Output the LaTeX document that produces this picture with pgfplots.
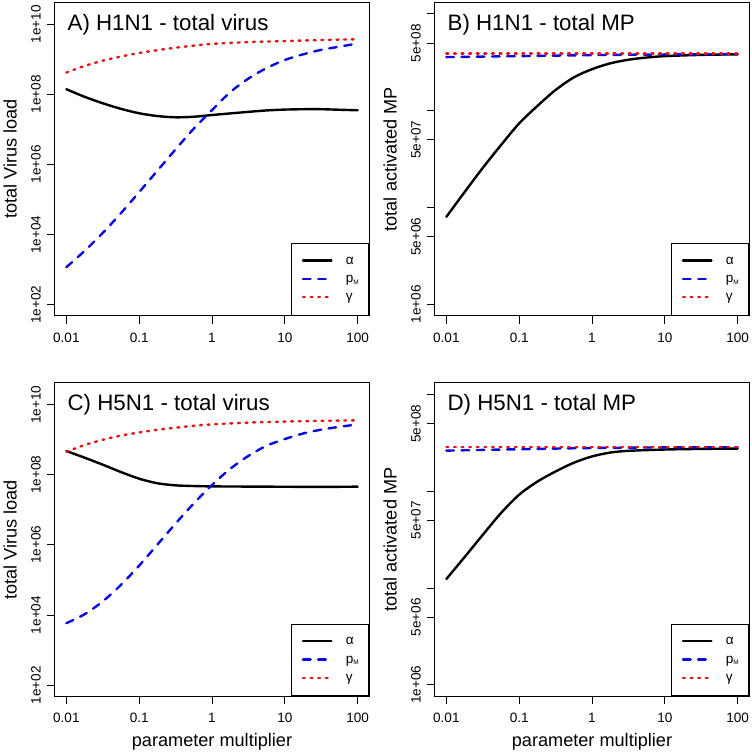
\documentclass[border=0pt]{standalone}
\usepackage{pgfplots}
\pgfplotsset{compat=1.18}
\usepackage{fontspec}
\setmainfont{Liberation Sans}
\definecolor{rblue}{RGB}{10,10,225}
\definecolor{rred}{RGB}{228,20,20}
\tikzset{
  lalpha/.style={black, line width=2.4bp, line cap=round, line join=round, smooth, tension=0.5},
  lpm/.style={rblue, line width=2.4bp, line cap=round, dash pattern=on 7.6bp off 7.6bp, smooth, tension=0.5},
  lgamma/.style={rred, line width=2.4bp, line cap=round, dash pattern=on 1.9bp off 5.7bp, smooth, tension=0.5},
  ttl/.style={anchor=base west, font=\fontsize{22.4}{26}\selectfont, xshift=9.4bp, yshift=-28bp},
}
\pgfplotsset{
  scale only axis, width=314.6bp, height=313.6bp,
  xmin=0.006918, xmax=144.54,
  xtick={0.01,0.1,1,10,100},
  xticklabels={0.01,0.1,1,10,100},
  xminorticks=false, yminorticks=false,
  tick align=outside, major tick length=8bp,
  axis line style={line width=1bp},
  every tick/.style={black, line width=1bp},
  tick label style={font=\fontsize{13.6}{16}\selectfont},
  xticklabel style={anchor=base, yshift=-18.5bp},
  yticklabel style={xshift=-6bp, rotate=90, anchor=base},
  every axis y label/.style={at={(rel axis cs:0,0.5)}, xshift=-38bp, rotate=90, anchor=base, font=\fontsize{18.2}{21}\selectfont},
  every axis x label/.style={at={(rel axis cs:0.5,0)}, yshift=-50bp, anchor=base, font=\fontsize{18.2}{21}\selectfont},
  legend style={at={(rel axis cs:1,0)}, anchor=south east, draw=black, line width=1bp,
      inner xsep=10bp, inner ysep=8.3bp, font=\fontsize{13.6}{15}\selectfont,
      nodes={inner sep=0pt, text height=12bp, text depth=6.3bp, anchor=base west}},
  legend image code/.code={\draw[#1, line width=2.4bp] (0bp,3.6bp) -- (28.4bp,3.6bp);},
}
\begin{document}
\begin{tikzpicture}
\path[use as bounding box] (0,0) rectangle (752bp,753bp);
% A
\begin{axis}[xmode=log, ymode=log, xtick pos=left, ytick pos=left,
  ymin=47.3, ymax=4.2e10, ytick={1e2,1e4,1e6,1e8,1e10},
  yticklabels={1e+02,1e+04,1e+06,1e+08,1e+10},
  at={(54.7bp,437bp)}, anchor=south west, ylabel={total Virus load},
  legend style={/tikz/every odd column/.append style={column sep=13.3bp}}]
\addplot[lalpha] coordinates {(0.01,1.40e8)(0.01778,8.51e7)(0.03162,5.56e7)(0.05623,3.85e7)(0.1,2.88e7)(0.1778,2.40e7)(0.3162,2.21e7)(0.5623,2.29e7)(1,2.57e7)(1.778,2.85e7)(3.162,3.16e7)(5.623,3.47e7)(10,3.67e7)(17.78,3.76e7)(31.62,3.76e7)(56.23,3.63e7)(100,3.51e7)};
\addlegendentry{α}
\addplot[lpm] coordinates {(0.01,1.17e3)(0.01778,3.39e3)(0.03162,1.11e4)(0.05623,4.07e4)(0.1,1.62e5)(0.1778,6.61e5)(0.3162,2.69e6)(0.5623,1.05e7)(1,3.55e7)(1.778,1.15e8)(3.162,2.82e8)(5.623,5.62e8)(10,9.55e8)(17.78,1.38e9)(31.62,1.86e9)(56.23,2.29e9)(100,2.82e9)};
\addlegendentry{p\raisebox{-1.5bp}{\fontsize{6.5}{7}\selectfont M}}
\addplot[lgamma] coordinates {(0.01,4.17e8)(0.01778,6.46e8)(0.03162,9.12e8)(0.05623,1.20e9)(0.1,1.51e9)(0.1778,1.82e9)(0.3162,2.14e9)(0.5623,2.45e9)(1,2.75e9)(3.162,3.09e9)(10,3.31e9)(31.62,3.55e9)(100,3.72e9)};
\addlegendentry{γ}
\node[ttl] at (rel axis cs:0,1) {A) H1N1 - total virus};
\end{axis}
% B
\begin{axis}[xmode=log, ymode=log, xtick pos=left, ytick pos=left,
  ymin=7.586e5, ymax=1.318e9, ytick={1e6,5e6,1e7,5e7,1e8,5e8,1e9},
  yticklabels={1e+06,5e+06,,5e+07,,5e+08,},
  at={(434.7bp,437bp)}, anchor=south west, ylabel={total activated MP},
  legend style={/tikz/every odd column/.append style={column sep=13.3bp}}]
\addplot[lalpha] coordinates {(0.01,8.02e6)(0.01778,1.445e7)(0.03162,2.57e7)(0.05623,4.42e7)(0.1,7.41e7)(0.1778,1.122e8)(0.3162,1.641e8)(0.5623,2.213e8)(1,2.69e8)(1.778,3.09e8)(3.162,3.37e8)(5.623,3.55e8)(10,3.67e8)(31.62,3.78e8)(100,3.83e8)};
\addlegendentry{α}
\addplot[lpm] coordinates {(0.01,3.59e8)(0.1,3.67e8)(1,3.76e8)(10,3.82e8)(100,3.85e8)};
\addlegendentry{p\raisebox{-1.5bp}{\fontsize{6.5}{7}\selectfont M}}
\addplot[lgamma] coordinates {(0.01,3.89e8)(0.1,3.89e8)(1,3.89e8)(10,3.89e8)(100,3.89e8)};
\addlegendentry{γ}
\node[ttl] at (rel axis cs:0,1) {B) H1N1 - total MP};
\end{axis}
% C
\begin{axis}[xmode=log, ymode=log, xtick pos=left, ytick pos=left,
  ymin=47.3, ymax=4.2e10, ytick={1e2,1e4,1e6,1e8,1e10},
  yticklabels={1e+02,1e+04,1e+06,1e+08,1e+10},
  at={(54.7bp,56.5bp)}, anchor=south west, ylabel={total Virus load}, xlabel={parameter multiplier},
  legend style={/tikz/every odd column/.append style={column sep=13.3bp}}]
\addplot[lalpha] coordinates {(0.01,4.79e8)(0.01778,3.09e8)(0.03162,1.95e8)(0.05623,1.20e8)(0.1,7.76e7)(0.1778,5.75e7)(0.3162,5.01e7)(0.5623,4.79e7)(1,4.68e7)(3.162,4.62e7)(10,4.57e7)(31.62,4.52e7)(100,4.60e7)};
\addlegendentry{α}
\addplot[lpm] coordinates {(0.01,5.85e3)(0.01778,1.05e4)(0.03162,2.45e4)(0.05623,7.24e4)(0.1,2.57e5)(0.1778,1.02e6)(0.3162,4.07e6)(0.5623,1.53e7)(1,5.13e7)(1.778,1.48e8)(3.162,3.47e8)(5.623,6.76e8)(10,1.05e9)(17.78,1.51e9)(31.62,1.95e9)(56.23,2.34e9)(100,2.75e9)};
\addlegendentry{p\raisebox{-1.5bp}{\fontsize{6.5}{7}\selectfont M}}
\addplot[lgamma] coordinates {(0.01,4.57e8)(0.01778,7.08e8)(0.03162,1.00e9)(0.05623,1.32e9)(0.1,1.62e9)(0.1778,1.93e9)(0.3162,2.21e9)(0.5623,2.51e9)(1,2.75e9)(3.162,3.09e9)(10,3.31e9)(31.62,3.47e9)(100,3.59e9)};
\addlegendentry{γ}
\node[ttl] at (rel axis cs:0,1) {C) H5N1 - total virus};
\end{axis}
% D
\begin{axis}[xmode=log, ymode=log, xtick pos=left, ytick pos=left,
  ymin=7.586e5, ymax=1.318e9, ytick={1e6,5e6,1e7,5e7,1e8,5e8,1e9},
  yticklabels={1e+06,5e+06,,5e+07,,5e+08,},
  at={(434.7bp,56.5bp)}, anchor=south west, ylabel={total activated MP}, xlabel={parameter multiplier},
  legend style={/tikz/every odd column/.append style={column sep=13.3bp}}]
\addplot[lalpha] coordinates {(0.01,1.24e7)(0.01778,2.089e7)(0.03162,3.548e7)(0.05623,5.957e7)(0.1,9.226e7)(0.1778,1.259e8)(0.3162,1.603e8)(0.5623,1.972e8)(1,2.291e8)(1.778,2.512e8)(3.162,2.618e8)(10,2.70e8)(31.62,2.74e8)(100,2.76e8)};
\addlegendentry{α}
\addplot[lpm] coordinates {(0.01,2.63e8)(0.1,2.72e8)(1,2.80e8)(10,2.84e8)(100,2.85e8)};
\addlegendentry{p\raisebox{-1.5bp}{\fontsize{6.5}{7}\selectfont M}}
\addplot[lgamma] coordinates {(0.01,2.87e8)(0.1,2.87e8)(1,2.87e8)(10,2.87e8)(100,2.87e8)};
\addlegendentry{γ}
\node[ttl] at (rel axis cs:0,1) {D) H5N1 - total MP};
\end{axis}
\end{tikzpicture}
\end{document}
